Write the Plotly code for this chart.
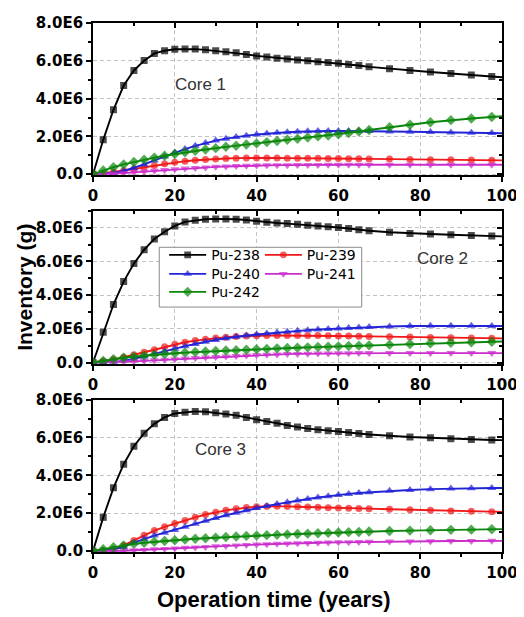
import plotly.graph_objects as go

# ---------------- data ----------------
years = [0, 2.5, 5, 7.5, 10, 12.5, 15, 17.5, 20, 22.5, 25, 27.5, 30, 32.5, 35, 37.5,
         40, 42.5, 45, 47.5, 50, 52.5, 55, 57.5, 60, 62.5, 65,
         67.5, 72.5, 77.5, 82.5, 87.5, 92.5, 97.5, 100]

isotopes = ["Pu-238", "Pu-239", "Pu-240", "Pu-241", "Pu-242"]

# Core 1 (units of 1E6 g)
core1_pu238 = [0, 1.82, 3.41, 4.69, 5.49, 6.01, 6.39, 6.53, 6.61, 6.63, 6.62, 6.58, 6.53, 6.48, 6.42, 6.34,
               6.26, 6.20, 6.14, 6.09, 6.04, 6.00, 5.95, 5.91, 5.87, 5.81, 5.75,
               5.68, 5.58, 5.49, 5.41, 5.33, 5.25, 5.17, 5.13]
core1_pu239 = [0, 0.05, 0.12, 0.20, 0.28, 0.37, 0.46, 0.55, 0.63, 0.69, 0.74, 0.78, 0.81, 0.83, 0.85, 0.86,
               0.86, 0.86, 0.86, 0.85, 0.85, 0.84, 0.84, 0.83, 0.83, 0.82, 0.82,
               0.81, 0.80, 0.78, 0.77, 0.76, 0.75, 0.74, 0.73]
core1_pu240 = [0, 0.02, 0.07, 0.17, 0.33, 0.52, 0.73, 0.94, 1.15, 1.33, 1.50, 1.65, 1.78, 1.88, 1.97, 2.04,
               2.10, 2.15, 2.19, 2.22, 2.25, 2.27, 2.28, 2.29, 2.29, 2.29, 2.28,
               2.28, 2.26, 2.25, 2.23, 2.21, 2.20, 2.18, 2.17]
core1_pu241 = [0, 0.01, 0.03, 0.06, 0.10, 0.14, 0.18, 0.22, 0.26, 0.30, 0.33, 0.36, 0.39, 0.41, 0.43, 0.45,
               0.46, 0.47, 0.48, 0.48, 0.49, 0.49, 0.49, 0.50, 0.50, 0.50, 0.50,
               0.50, 0.50, 0.50, 0.50, 0.50, 0.50, 0.50, 0.50]
core1_pu242 = [0, 0.20, 0.37, 0.52, 0.65, 0.77, 0.88, 0.98, 1.07, 1.16, 1.24, 1.31, 1.38, 1.45, 1.51, 1.57,
               1.63, 1.70, 1.76, 1.82, 1.88, 1.94, 2.00, 2.05, 2.11, 2.18, 2.26,
               2.34, 2.49, 2.62, 2.75, 2.86, 2.95, 3.03, 3.07]

# Core 2
core2_pu238 = [0, 1.79, 3.44, 4.80, 5.87, 6.69, 7.33, 7.76, 8.10, 8.34, 8.44, 8.50, 8.52, 8.52, 8.50, 8.45,
               8.38, 8.32, 8.28, 8.24, 8.20, 8.15, 8.10, 8.05, 8.01, 7.95, 7.88,
               7.82, 7.73, 7.66, 7.62, 7.58, 7.54, 7.50, 7.48]
core2_pu239 = [0, 0.08, 0.18, 0.31, 0.46, 0.61, 0.76, 0.93, 1.08, 1.20, 1.30, 1.38, 1.45, 1.50, 1.54, 1.57,
               1.59, 1.60, 1.60, 1.60, 1.60, 1.60, 1.60, 1.59, 1.58, 1.57, 1.56,
               1.55, 1.53, 1.51, 1.49, 1.47, 1.45, 1.44, 1.43]
core2_pu240 = [0, 0.01, 0.04, 0.10, 0.22, 0.36, 0.51, 0.67, 0.82, 0.97, 1.10, 1.23, 1.34, 1.44, 1.53, 1.60,
               1.66, 1.72, 1.78, 1.83, 1.88, 1.92, 1.96, 1.99, 2.02, 2.05, 2.08,
               2.10, 2.14, 2.17, 2.18, 2.18, 2.18, 2.17, 2.17]
core2_pu241 = [0, 0.01, 0.02, 0.04, 0.07, 0.10, 0.13, 0.17, 0.20, 0.24, 0.27, 0.30, 0.33, 0.36, 0.39, 0.42,
               0.44, 0.46, 0.48, 0.50, 0.51, 0.52, 0.53, 0.54, 0.55, 0.55, 0.56,
               0.56, 0.56, 0.56, 0.56, 0.56, 0.56, 0.56, 0.56]
core2_pu242 = [0, 0.10, 0.20, 0.28, 0.35, 0.41, 0.46, 0.51, 0.55, 0.59, 0.62, 0.65, 0.68, 0.71, 0.73, 0.76,
               0.79, 0.81, 0.84, 0.86, 0.88, 0.90, 0.92, 0.94, 0.96, 0.98, 1.00,
               1.02, 1.06, 1.10, 1.14, 1.17, 1.20, 1.23, 1.25]

# Core 3
core3_pu238 = [0, 1.78, 3.34, 4.59, 5.54, 6.23, 6.72, 7.06, 7.27, 7.34, 7.38, 7.36, 7.31, 7.24, 7.17, 7.06,
               6.94, 6.85, 6.75, 6.64, 6.55, 6.47, 6.41, 6.36, 6.32, 6.26, 6.21,
               6.16, 6.09, 6.03, 5.99, 5.94, 5.90, 5.87, 5.86]
core3_pu239 = [0, 0.03, 0.10, 0.30, 0.56, 0.83, 1.08, 1.28, 1.46, 1.62, 1.78, 1.93, 2.05, 2.15, 2.23, 2.30,
               2.34, 2.36, 2.37, 2.36, 2.34, 2.33, 2.31, 2.29, 2.27, 2.26, 2.25,
               2.24, 2.21, 2.18, 2.15, 2.12, 2.10, 2.08, 2.07]
core3_pu240 = [0, 0.02, 0.08, 0.22, 0.44, 0.64, 0.82, 0.97, 1.11, 1.28, 1.44, 1.60, 1.75, 1.89, 2.02, 2.15,
               2.27, 2.38, 2.48, 2.58, 2.67, 2.75, 2.83, 2.90, 2.96, 3.02, 3.07,
               3.11, 3.18, 3.23, 3.27, 3.30, 3.32, 3.33, 3.33]
core3_pu241 = [0, 0.00, 0.01, 0.02, 0.04, 0.06, 0.09, 0.11, 0.14, 0.17, 0.19, 0.22, 0.25, 0.27, 0.30, 0.32,
               0.34, 0.36, 0.38, 0.40, 0.41, 0.43, 0.44, 0.45, 0.46, 0.47, 0.48,
               0.49, 0.50, 0.51, 0.52, 0.53, 0.53, 0.54, 0.54]
core3_pu242 = [0, 0.10, 0.20, 0.30, 0.38, 0.44, 0.49, 0.53, 0.57, 0.61, 0.65, 0.68, 0.71, 0.74, 0.77, 0.80,
               0.82, 0.84, 0.86, 0.88, 0.90, 0.92, 0.94, 0.96, 0.98, 1.00, 1.01,
               1.03, 1.06, 1.08, 1.10, 1.12, 1.13, 1.15, 1.16]

cores = ["Core 1", "Core 2", "Core 3"]
core_data = [
    [core1_pu238, core1_pu239, core1_pu240, core1_pu241, core1_pu242],
    [core2_pu238, core2_pu239, core2_pu240, core2_pu241, core2_pu242],
    [core3_pu238, core3_pu239, core3_pu240, core3_pu241, core3_pu242],
]

x_tick_vals = [0, 20, 40, 60, 80, 100]
x_tick_text = ["0", "20", "40", "60", "80", "100"]
y_tick_vals = [0, 2e6, 4e6, 6e6, 8e6]
y_tick_text = ["0.0", "2.0E6", "4.0E6", "6.0E6", "8.0E6"]

# ---------------- style ----------------
colors = ["#000000", "#f01818", "#2323d8", "#cc2ccc", "#0a870a"]
symbols = ["square", "circle", "triangle-up", "triangle-down", "diamond"]
msizes = [7, 7, 8, 8, 8]
legend_ids = ["legend", "legend2", "legend3", "legend4", "legend5"]
# legend entry positions (paper coords, left / middle)
legend_xy = [(0.174, 0.561), (0.408, 0.561), (0.174, 0.525), (0.408, 0.525), (0.174, 0.491)]
FONT = "Liberation Sans, Arial, sans-serif"
TICKFONT = "DejaVu Sans, sans-serif"

domains = [[0.712, 1.0], [0.355, 0.645], [0.0, 0.288]]
yranges = [[-0.06e6, 8e6], [-0.1e6, 9e6], [-0.05e6, 8e6]]
label_pos = [(0.263, 0.884), (0.855, 0.554), (0.312, 0.193)]

fig = go.Figure()

n = len(years)
for p in range(3):
    xa = "x" if p == 0 else f"x{p + 1}"
    ya = "y" if p == 0 else f"y{p + 1}"
    for i, iso in enumerate(isotopes):
        vals = [v * 1e6 for v in core_data[p][i]]
        sizes = [msizes[i]] * (n - 1) + [0]
        fig.add_trace(go.Scatter(
            x=years, y=vals, name=iso, mode="lines+markers",
            xaxis=xa, yaxis=ya,
            line=dict(color=colors[i], width=1.9),
            marker=dict(symbol=symbols[i], size=sizes, color=colors[i],
                        line=dict(width=0)),
            legend=legend_ids[i], showlegend=(p == 1),
        ))
    # empty traces to activate mirrored tick axes (top and right)
    fig.add_trace(go.Scatter(x=[], y=[], xaxis=f"x{p + 4}", yaxis=ya,
                             showlegend=False, hoverinfo="skip"))
    fig.add_trace(go.Scatter(x=[], y=[], xaxis=xa, yaxis=f"y{p + 4}",
                             showlegend=False, hoverinfo="skip"))

tickfont = dict(family=TICKFONT, size=15, color="black", weight="bold")
gridstyle = dict(showgrid=True, gridcolor="#c2c2c2", griddash="4px,3px", gridwidth=1)
layout = {}
for p in range(3):
    xk = "xaxis" if p == 0 else f"xaxis{p + 1}"
    yk = "yaxis" if p == 0 else f"yaxis{p + 1}"
    ya = "y" if p == 0 else f"y{p + 1}"
    xa = "x" if p == 0 else f"x{p + 1}"
    layout[xk] = dict(
        domain=[0, 1], anchor=ya, range=[0, 100],
        tickmode="array", tickvals=x_tick_vals, ticktext=x_tick_text,
        ticks="outside", ticklen=5, tickwidth=1.5, tickcolor="black",
        minor=dict(tickmode="linear", tick0=0, dtick=10, ticks="outside",
                   ticklen=3, tickwidth=1.5, tickcolor="black"),
        showline=True, linecolor="black", linewidth=1.8, mirror=True,
        zeroline=False, tickfont=tickfont, ticklabelstandoff=1, **gridstyle,
    )
    layout[yk] = dict(
        domain=domains[p], anchor=xa, range=yranges[p],
        tickmode="array", tickvals=y_tick_vals, ticktext=y_tick_text,
        ticks="outside", ticklen=5, tickwidth=1.5, tickcolor="black",
        minor=dict(tickmode="linear", tick0=0, dtick=1e6, ticks="outside",
                   ticklen=3, tickwidth=1.5, tickcolor="black"),
        showline=True, linecolor="black", linewidth=1.8, mirror=True,
        zeroline=False, tickfont=tickfont, **gridstyle,
    )
    # mirrored axes with inside ticks
    layout[f"xaxis{p + 4}"] = dict(
        overlaying=xa, anchor=ya, side="top", range=[0, 100],
        tickmode="array", tickvals=x_tick_vals, showticklabels=False,
        ticks="inside", ticklen=5, tickwidth=1.5, tickcolor="black",
        minor=dict(tickmode="linear", tick0=0, dtick=10, ticks="inside",
                   ticklen=3, tickwidth=1.5, tickcolor="black"),
        showline=False, showgrid=False, zeroline=False,
    )
    layout[f"yaxis{p + 4}"] = dict(
        overlaying=ya, anchor=xa, side="right", range=yranges[p],
        tickmode="array", tickvals=y_tick_vals, showticklabels=False,
        ticks="inside", ticklen=5, tickwidth=1.5, tickcolor="black",
        minor=dict(tickmode="linear", tick0=0, dtick=1e6, ticks="inside",
                   ticklen=3, tickwidth=1.5, tickcolor="black"),
        showline=False, showgrid=False, zeroline=False,
    )

for k, lid in enumerate(legend_ids):
    layout[lid] = dict(
        x=legend_xy[k][0], y=legend_xy[k][1], xanchor="left", yanchor="middle",
        bgcolor="rgba(0,0,0,0)", borderwidth=0, itemwidth=37,
        font=dict(family=TICKFONT, size=14, color="black"),
    )

fig.update_layout(**layout)

annotations = []
for p in range(3):
    annotations.append(dict(
        text=cores[p], x=label_pos[p][0], y=label_pos[p][1],
        xref="paper", yref="paper", showarrow=False,
        xanchor="center", yanchor="middle",
        font=dict(family=FONT, size=17, color="#333333"),
    ))
annotations.append(dict(
    text="Inventory (g)", x=-0.168, y=0.5, xref="paper", yref="paper",
    showarrow=False, textangle=-90, xanchor="center", yanchor="middle",
    font=dict(family=FONT, size=21, color="black", weight="bold"),
))
annotations.append(dict(
    text="Operation time (years)", x=0.442, y=-0.089, xref="paper", yref="paper",
    showarrow=False, xanchor="center", yanchor="middle",
    font=dict(family=FONT, size=22, color="black", weight="bold"),
))

fig.update_layout(
    width=516, height=609,
    margin=dict(l=85, r=17, t=6, b=65),
    paper_bgcolor="white", plot_bgcolor="white",
    annotations=annotations,
    shapes=[dict(type="rect", xref="paper", yref="paper",
                 x0=0.162, x1=0.657, y0=0.463, y1=0.576,
                 line=dict(color="#8a8a8a", width=1), fillcolor="white",
                 layer="above")],
    font=dict(family=FONT),
)

fig.write_html("out.html")
